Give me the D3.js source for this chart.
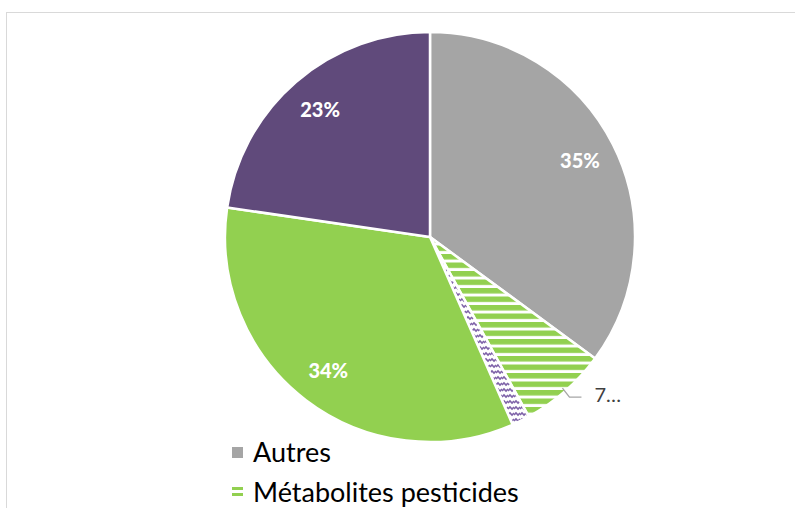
<!DOCTYPE html>
<html>
<head>
<meta charset="utf-8">
<script src="https://cdn.jsdelivr.net/npm/d3@7"></script>
<style>
  body { margin: 0; background: #fff; }
  svg { display: block; }
</style>
</head>
<body>
<svg></svg>
<script>
var width = 795;
var height = 508;

// slice data, clockwise from 12 o'clock
var categories = ["Autres", "Métabolites pesticides", "Métabolites autres", "Pesticides", "Autres substances"];
var values = [35.1, 6.9, 1.4, 33.9, 22.7];
var labels = ["35%", "7…", "", "34%", "23%"];
var fills = ["#A5A5A5", "url(#hatchGreen)", "url(#hatchPurple)", "#92D050", "#604A7B"];
var legendMarks = ["#A5A5A5", "url(#hatchGreenLeg)", "url(#hatchPurple)", "#92D050", "#604A7B"];

var data = categories.map((c, i) => ({ name: c, value: values[i], label: labels[i], fill: fills[i], mark: legendMarks[i] }));

var cx = 430, cy = 237, radius = 205;

var svg = d3.select("svg")
    .attr("width", width)
    .attr("height", height);

var defs = svg.append("defs");

var pg = defs.append("pattern")
    .attr("id", "hatchGreen")
    .attr("patternUnits", "userSpaceOnUse")
    .attr("width", 8).attr("height", 8.5);
pg.append("rect").attr("width", 8).attr("height", 8.5).attr("fill", "#fff");
pg.append("rect").attr("y", 0).attr("width", 8).attr("height", 5.5).attr("fill", "#92D050");

var pgl = defs.append("pattern")
    .attr("id", "hatchGreenLeg")
    .attr("patternUnits", "userSpaceOnUse")
    .attr("width", 12).attr("height", 6)
    .attr("y", 487);
pgl.append("rect").attr("width", 12).attr("height", 6).attr("fill", "#fff");
pgl.append("rect").attr("width", 12).attr("height", 3).attr("fill", "#92D050");

var pp = defs.append("pattern")
    .attr("id", "hatchPurple")
    .attr("patternUnits", "userSpaceOnUse")
    .attr("width", 6).attr("height", 6);
pp.append("rect").attr("width", 6).attr("height", 6).attr("fill", "#fff");
pp.append("path")
    .attr("d", "M0,4 L2,2 L4,4 L6,2")
    .attr("fill", "none")
    .attr("stroke", "#7E62A8")
    .attr("stroke-width", 1.6);

// chart border
svg.append("rect")
    .attr("x", 6.5).attr("y", 12.5)
    .attr("width", 820).attr("height", 520)
    .attr("fill", "none")
    .attr("stroke", "#D9D9D9")
    .attr("stroke-width", 1);

var arcs = d3.pie()
    .value(d => d.value)
    .sort(null)
    (data);

var path = d3.arc()
    .outerRadius(radius)
    .innerRadius(0);

var labelArc = d3.arc()
    .outerRadius(168)
    .innerRadius(168);

var g = svg.append("g")
    .attr("transform", `translate(${cx}, ${cy})`);

g.selectAll(".arc")
  .data(arcs)
  .enter()
  .append("path")
    .classed("arc", true)
    .attr("fill", d => d.data.fill)
    .attr("stroke", "#fff")
    .attr("stroke-width", 2.5)
    .attr("stroke-linejoin", "round")
    .attr("d", path);

g.selectAll(".lbl")
  .data(arcs.filter(d => d.data.label && d.index !== 1))
  .enter()
  .append("text")
    .classed("lbl", true)
    .attr("transform", d => `translate(${labelArc.centroid(d)})`)
    .attr("text-anchor", "middle")
    .attr("dy", "0.35em")
    .style("font-family", "Lato, 'Open Sans', sans-serif")
    .style("font-weight", "900")
    .style("font-size", "20px")
    .style("fill", "#fff")
    .text(d => d.data.label);

// outside label with leader line for the small hatched slice
var small = arcs[1];
var mid = (small.startAngle + small.endAngle) / 2;
var p0 = [Math.sin(mid) * (radius - 4), -Math.cos(mid) * (radius - 4)];
g.append("polyline")
    .attr("points", [p0, [p0[0] + 7, p0[1] + 9], [p0[0] + 19, p0[1] + 9]].map(p => p.join(",")).join(" "))
    .attr("fill", "none")
    .attr("stroke", "#A6A6A6")
    .attr("stroke-width", 1.3);
g.append("text")
    .attr("x", p0[0] + 32)
    .attr("y", p0[1] + 7)
    .attr("dy", "0.35em")
    .style("font-family", "Lato, 'Open Sans', sans-serif")
    .style("font-size", "20px")
    .style("fill", "#404040")
    .text(small.data.label);

// legend: only the entries that fit in the frame are shown
var legendTop = 452, legendStep = 40;
var shown = data.filter((d, i) => legendTop + i * legendStep < height);

var legend = svg.append("g")
    .attr("transform", `translate(232, ${legendTop})`);

var items = legend.selectAll(".item")
  .data(shown)
  .enter()
  .append("g")
    .classed("item", true)
    .attr("transform", (d, i) => `translate(0, ${i * legendStep})`);

items.append("rect")
    .attr("x", 0).attr("y", -5)
    .attr("width", 11).attr("height", 11)
    .attr("fill", d => d.mark);

items.append("text")
    .attr("x", 21)
    .attr("y", 0)
    .attr("dy", "0.36em")
    .style("font-family", "Lato, 'Open Sans', sans-serif")
    .style("font-size", "27px")
    .style("fill", "#000")
    .text(d => d.name);
</script>
</body>
</html>
